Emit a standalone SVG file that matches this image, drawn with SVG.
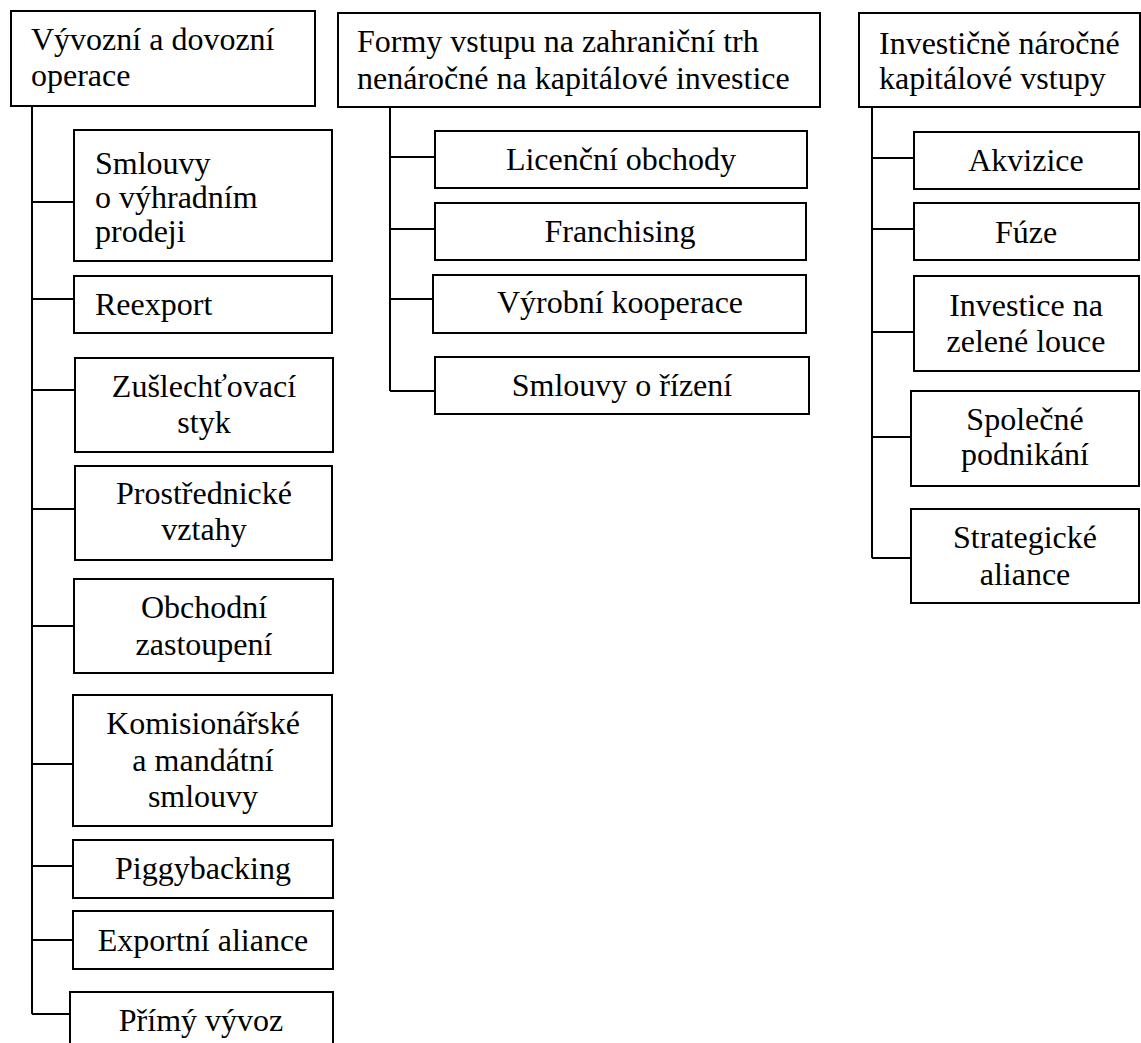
<svg xmlns="http://www.w3.org/2000/svg" width="1141" height="1043" viewBox="0 0 1141 1043">
<style>
.box{fill:#fff;stroke:#000;stroke-width:2}
.ln{fill:none;stroke:#000;stroke-width:2}
text{font-size:32px;fill:#000}
.c{text-anchor:middle}
</style>
<rect width="1141" height="1043" fill="#fff"/>
<g id="connectors">
<path class="ln" d="M32,106 V1014 M32,202 H74 M32,299 H74 M32,390 H75 M32,509 H75 M32,626 H74 M32,764 H73 M32,866 H73 M32,940 H73 M32,1014 H70"/>
<path class="ln" d="M390,107 V391 M390,157 H435 M390,229 H435 M390,299 H433 M390,391 H435"/>
<path class="ln" d="M872,107 V558 M872,158 H914 M872,229 H914 M872,332 H914 M872,437 H911 M872,558 H911"/>
</g>
<g font-family="Liberation Serif, DejaVu Serif, serif">
<g id="h1"><rect class="box" x="11" y="11" width="304" height="95"/><text x="31" y="50">Vývozní a dovozní</text><text x="31" y="86">operace</text></g>
<g id="h2"><rect class="box" x="338" y="13" width="482" height="94"/><text x="357" y="52">Formy vstupu na zahraniční trh</text><text x="357" y="89">nenáročné na kapitálové investice</text></g>
<g id="h3"><rect class="box" x="859" y="13" width="281" height="94"/><text x="879" y="54">Investičně náročné</text><text x="879" y="89">kapitálové vstupy</text></g>

<g id="n1"><rect class="box" x="74" y="130" width="258" height="131"/><text x="95" y="174">Smlouvy</text><text x="95" y="208">o výhradním</text><text x="95" y="242">prodeji</text></g>
<g id="n2"><rect class="box" x="74" y="276" width="258" height="57"/><text x="95" y="315">Reexport</text></g>
<g id="n3"><rect class="box" x="75" y="358" width="258" height="94"/><text class="c" x="204" y="397">Zušlechťovací</text><text class="c" x="204" y="433">styk</text></g>
<g id="n4"><rect class="box" x="75" y="466" width="257" height="94"/><text class="c" x="204" y="504">Prostřednické</text><text class="c" x="204" y="540">vztahy</text></g>
<g id="n5"><rect class="box" x="74" y="579" width="259" height="94"/><text class="c" x="204" y="618">Obchodní</text><text class="c" x="204" y="655">zastoupení</text></g>
<g id="n6"><rect class="box" x="73" y="695" width="259" height="131"/><text class="c" x="203" y="734">Komisionářské</text><text class="c" x="203" y="771">a mandátní</text><text class="c" x="203" y="807">smlouvy</text></g>
<g id="n7"><rect class="box" x="73" y="840" width="260" height="58"/><text class="c" x="203" y="879">Piggybacking</text></g>
<g id="n8"><rect class="box" x="73" y="911" width="260" height="58"/><text class="c" x="203" y="951">Exportní aliance</text></g>
<g id="n9"><rect class="box" x="70" y="992" width="263" height="70"/><text class="c" x="201" y="1031">Přímý vývoz</text></g>

<g id="m1"><rect class="box" x="435" y="131" width="372" height="57"/><text class="c" x="621" y="170">Licenční obchody</text></g>
<g id="m2"><rect class="box" x="435" y="203" width="371" height="57"/><text class="c" x="620" y="242">Franchising</text></g>
<g id="m3"><rect class="box" x="433" y="275" width="373" height="58"/><text class="c" x="620" y="313">Výrobní kooperace</text></g>
<g id="m4"><rect class="box" x="435" y="357" width="374" height="57"/><text class="c" x="622" y="396">Smlouvy o řízení</text></g>

<g id="k1"><rect class="box" x="914" y="132" width="225" height="57"/><text class="c" x="1026" y="171">Akvizice</text></g>
<g id="k2"><rect class="box" x="914" y="203" width="225" height="57"/><text class="c" x="1026" y="243">Fúze</text></g>
<g id="k3"><rect class="box" x="914" y="276" width="225" height="95"/><text class="c" x="1026" y="316">Investice na</text><text class="c" x="1026" y="352">zelené louce</text></g>
<g id="k4"><rect class="box" x="911" y="391" width="228" height="95"/><text class="c" x="1025" y="430">Společné</text><text class="c" x="1025" y="465">podnikání</text></g>
<g id="k5"><rect class="box" x="911" y="509" width="228" height="94"/><text class="c" x="1025" y="548">Strategické</text><text class="c" x="1025" y="585">aliance</text></g>
</g>
</svg>
